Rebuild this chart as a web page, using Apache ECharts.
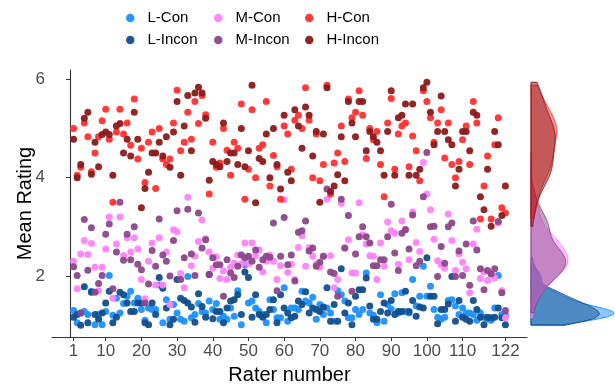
<!DOCTYPE html>
<html>
<head>
<meta charset="utf-8">
<script src="https://cdn.jsdelivr.net/npm/echarts@6/dist/echarts.min.js"></script>
<style>
  html, body { margin: 0; padding: 0; background: #fff; }
  #chart { width: 615px; height: 386px; }
</style>
</head>
<body>
<div id="chart"></div>
<script>
// mean rating per rater (1..122), one array per condition
const hCon = [
  5.0,4.05,4.21,5.11,4.83,4.12,4.5,4.83,5.16,5.39,
  4.78,3.5,4.93,5.39,4.89,5.11,4.66,5.6,4.38,4.6,
  3.9,4.72,4.93,3.78,5.0,4.38,4.27,4.38,5.11,5.78,
  4.55,4.72,5.33,4.78,5.55,5.1,5.67,5.28,3.67,4.72,
  4.21,4.3,5.0,4.56,4.05,4.72,4.6,5.5,3.56,4.17,
  5.38,4.0,4.6,4.67,5.55,3.83,4.45,4.22,3.56,5.05,
  4.89,4.17,5.17,5.27,5.0,5.83,5.17,4.0,4.89,3.94,
  4.27,5.88,3.67,4.3,4.5,5.05,4.33,5.6,5.22,5.33,
  5.77,5.27,4.39,5.0,4.77,4.94,4.27,3.61,5.11,5.61,
  4.17,4.89,5.05,5.11,4.22,4.85,4.55,3.94,5.77,5.55,
  5.22,4.72,5.11,5.38,4.4,5.11,4.27,4.0,4.33,4.77,
  5.05,4.27,5.55,5.11,3.16,3.83,4.44,3.16,4.67,5.22,
  3.39,3.28
]
const hIncon = [
  4.78,4.0,4.27,5.21,5.33,4.07,4.72,4.22,4.88,4.93,
  4.88,4.05,5.05,5.1,4.5,4.78,4.44,5.33,4.78,3.39,
  3.78,4.11,4.5,4.5,4.72,4.44,4.83,4.21,4.93,5.55,
  4.05,5.05,5.67,4.55,5.72,5.84,5.72,5.21,3.95,4.33,
  4.27,4.22,5.11,4.33,4.5,4.5,4.27,5.0,4.22,4.55,
  5.88,3.49,4.39,4.33,4.89,4.0,5.0,4.27,3.77,5.27,
  4.11,3.94,5.38,5.05,4.6,5.44,5.27,4.44,4.94,3.5,
  4.89,5.83,3.72,3.83,4.06,4.83,3.94,5.55,5.11,4.83,
  5.55,5.55,4.55,4.94,4.83,4.72,4.55,4.05,4.94,5.77,
  4.05,5.22,5.27,5.5,4.05,5.5,4.05,4.17,5.83,5.94,
  5.33,4.67,4.94,5.66,4.94,4.77,4.67,3.83,4.17,4.94,
  4.94,4.55,5.33,5.27,3.61,3.35,4.17,3.01,4.94,4.67,
  3.23,3.83
]
const mCon = [
  2.3,1.74,2.45,2.72,2.44,2.66,2.18,1.7,2.18,2.55,
  3.2,1.55,2.65,3.2,2.42,2.78,2.49,2.78,2.55,1.93,
  1.54,2.3,2.67,1.82,2.78,1.82,2.49,1.42,2.94,2.9,
  2.05,1.76,3.6,2.21,2.4,2.7,3.14,2.76,2.49,2.16,
  2.39,1.95,2.1,1.93,2.18,2.26,2.43,2.25,2.67,2.25,
  2.67,2.41,2.53,2.08,2.3,2.43,2.3,1.93,2.21,3.55,
  2.07,2.24,1.93,2.58,2.82,2.2,2.58,2.4,2.24,2.18,
  2.4,3.56,2.41,1.76,1.93,3.48,2.57,2.74,2.06,2.06,
  3.49,2.84,2.65,2.41,2.4,1.93,2.67,2.2,3.1,2.92,
  2.87,2.24,3.12,2.95,2.33,3.3,2.68,2.5,4.31,3.67,
  3.35,2.75,2.31,2.23,2.16,3.26,2.72,2.11,2.45,2.28,
  2.15,1.66,2.65,2.95,1.95,2.08,1.91,2.05,1.96,3.08,
  1.7,1.15
]
const mIncon = [
  2.19,2.01,1.25,3.15,2.12,2.98,1.67,1.85,2.01,2.85,
  3.06,1.74,2.49,3.5,2.32,2.85,2.33,3.0,2.24,2.13,
  1.45,1.84,2.52,2.2,3.16,2.43,2.3,2.0,2.72,3.33,
  1.93,2.37,3.36,2.45,2.01,3.28,2.57,2.74,2.03,2.37,
  2.23,2.23,1.59,2.33,2.06,1.97,2.2,2.43,2.37,2.4,
  2.3,2.53,2.18,2.33,2.4,2.38,3.08,1.7,2.4,3.19,
  2.23,2.43,1.9,2.89,2.92,3.12,2.51,2.57,2.2,2.28,
  2.4,3.77,2.08,2.05,1.59,3.56,2.57,3.23,1.69,2.45,
  2.8,3.0,2.8,2.67,2.21,2.21,2.33,2.33,2.8,3.46,
  2.47,2.11,2.87,2.94,2.55,3.24,2.21,2.3,3.61,4.51,
  3.0,3.01,1.99,2.6,2.26,3.0,3.08,1.99,2.51,2.01,
  2.65,1.81,3.12,2.53,2.15,1.72,2.11,2.04,2.15,3.11,
  1.66,1.3
]
const lCon = [
  1.3,1.05,1.25,1.28,1.22,1.69,1.01,1.22,1.01,1.28,
  2.01,1.2,1.55,1.25,1.44,1.59,1.69,1.45,1.55,1.32,
  1.1,1.35,1.32,1.32,1.82,1.05,1.52,1.12,1.42,1.25,
  1.12,1.08,1.99,1.15,1.22,1.44,1.28,1.25,1.49,1.32,
  1.44,1.12,1.18,1.12,1.35,1.18,1.7,1.01,2.23,1.45,
  1.49,1.35,1.28,1.22,1.05,1.52,1.32,1.15,1.15,1.76,
  1.08,1.35,1.35,1.32,1.69,1.49,1.45,1.57,1.12,1.42,
  1.22,1.35,1.25,1.08,1.7,1.62,1.49,1.15,1.15,1.32,
  1.22,1.32,2.06,1.25,1.2,1.05,1.62,1.08,1.42,1.33,
  1.64,1.25,1.66,1.28,1.25,1.93,1.39,1.59,2.2,1.59,
  1.79,1.32,1.16,1.12,1.16,1.5,1.52,1.39,1.22,1.35,
  1.25,1.25,1.22,1.1,1.25,1.16,1.12,1.1,1.35,2.01,
  1.22,1.2
]
const lIncon = [
  1.16,1.22,1.0,1.78,1.05,1.67,1.22,1.12,1.25,1.45,
  1.69,1.05,1.16,1.67,1.62,1.45,1.28,1.28,1.45,1.45,
  1.05,1.01,1.45,1.22,1.97,1.75,1.35,1.01,1.12,1.93,
  1.55,1.5,1.45,1.37,1.06,1.64,1.38,1.16,2.03,1.13,
  1.28,1.28,1.05,1.35,1.49,1.52,1.62,1.22,2.08,1.97,
  1.16,1.62,1.22,1.16,1.22,1.32,1.52,1.05,1.62,1.35,
  1.25,1.15,1.18,1.49,1.42,1.68,1.25,1.35,1.32,1.28,
  1.37,1.76,1.08,1.42,1.08,2.15,1.25,1.45,1.01,1.59,
  1.72,1.72,1.96,1.39,1.12,1.12,1.28,1.45,1.25,1.5,
  1.22,1.28,1.28,1.69,1.28,1.5,1.18,1.37,1.35,2.37,
  1.59,1.59,1.03,1.32,1.32,1.43,1.99,1.08,1.5,1.16,
  1.12,1.08,1.5,1.32,1.16,1.01,1.16,1.15,1.16,1.35,
  1.15,1.01
]

const groupNames = ['L-Con', 'L-Incon', 'M-Con', 'M-Incon', 'H-Con', 'H-Incon']
const groupColors = ['#1E90FF', '#104E8B', '#FF83FA', '#8B4789', '#FF3030', '#8B1A1A']
const groupValues = [lCon, lIncon, mCon, mIncon, hCon, hIncon]
const xTicks = [1, 10, 20, 30, 40, 50, 60, 70, 80, 90, 100, 110, 122]
const yTicks = [2, 4, 6]

const font = '"Liberation Sans", Arial, sans-serif'

// gaussian kde like R's density() with bw.nrd0, evaluated from min to max
const kde = (vals, adjust) => {
  const n = vals.length
  const sorted = [...vals].sort((a, b) => a - b)
  const mean = vals.reduce((a, b) => a + b, 0) / n
  const sd = Math.sqrt(vals.reduce((a, b) => a + (b - mean) ** 2, 0) / (n - 1))
  const q = (p) => {
    const h = (n - 1) * p
    const lo = Math.floor(h)
    return sorted[lo] + (h - lo) * ((sorted[lo + 1] ?? sorted[lo]) - sorted[lo])
  }
  const iqr = q(0.75) - q(0.25)
  const bw = adjust * 0.9 * Math.min(sd, iqr / 1.34) * Math.pow(n, -0.2)
  const lo = sorted[0]
  const hi = sorted[n - 1]
  const pts = []
  for (let i = 0; i < 256; i++) {
    const y = lo + (hi - lo) * i / 255
    let d = 0
    for (const v of vals) {
      const z = (y - v) / bw
      d += Math.exp(-0.5 * z * z)
    }
    pts.push([d / (n * bw * Math.sqrt(2 * Math.PI)), y])
  }
  return pts
}

const densities = groupValues.map(v => kde(v, 1.25))
let maxDens = 0
densities.forEach(pts => pts.forEach(p => { maxDens = Math.max(maxDens, p[0]) }))

const hexToRgba = (hex, a) => {
  const n = parseInt(hex.slice(1), 16)
  return `rgba(${(n >> 16) & 255},${(n >> 8) & 255},${n & 255},${a})`
}

const scatterSeries = groupNames.map((name, i) => ({
  name,
  type: 'scatter',
  xAxisIndex: 0,
  yAxisIndex: 0,
  symbol: 'circle',
  symbolSize: 7,
  itemStyle: { color: groupColors[i], opacity: 0.95 },
  data: groupValues[i].map((v, k) => [k + 1, v])
}))

const densitySeries = groupNames.map((name, i) => {
  const pts = densities[i]
  return {
    name: name + ' density',
    type: 'custom',
    xAxisIndex: 1,
    yAxisIndex: 1,
    silent: true,
    clip: false,
    data: pts,
    renderItem: (params, api) => {
      if (params.dataIndex !== 0) return null
      const poly = [api.coord([0, pts[0][1]])]
      pts.forEach(p => poly.push(api.coord(p)))
      poly.push(api.coord([0, pts[pts.length - 1][1]]))
      return {
        type: 'polygon',
        shape: { points: poly },
        style: {
          fill: hexToRgba(groupColors[i], 0.5),
          stroke: groupColors[i],
          lineWidth: 1
        }
      }
    }
  }
})

const legendCol = (left, names) => ({
  orient: 'vertical',
  left,
  top: 7,
  padding: 0,
  itemGap: 0,
  itemWidth: 8.5,
  itemHeight: 8.5,
  icon: 'circle',
  data: names,
  selectedMode: false,
  textStyle: { fontFamily: font, fontSize: 15, color: '#000', lineHeight: 22, padding: [0, 0, 0, 8] }
})

const axisTextColor = '#4D4D4D'

const option = {
  animation: false,
  backgroundColor: '#fff',
  legend: [
    legendCol(126, ['L-Con', 'L-Incon']),
    legendCol(214, ['M-Con', 'M-Incon']),
    legendCol(305, ['H-Con', 'H-Incon'])
  ],
  grid: [
    { left: 52, right: 88, top: 70, bottom: 49, outerBoundsMode: 'none' },
    { left: 531, width: 83, top: 70, bottom: 49, outerBoundsMode: 'none' }
  ],
  xAxis: [
    {
      type: 'value',
      gridIndex: 0,
      min: -5.05,
      max: 128.05,
      name: 'Rater number',
      nameLocation: 'middle',
      nameGap: 28,
      nameMoveOverlap: false,
      nameTextStyle: { fontFamily: font, fontSize: 20, color: '#000' },
      axisLine: { lineStyle: { color: '#333', width: 1.1 } },
      axisTick: { length: 4, customValues: xTicks, lineStyle: { color: '#333' } },
      axisLabel: { customValues: xTicks, color: axisTextColor, fontFamily: font, fontSize: 17, margin: 6 },
      splitLine: { show: false }
    },
    {
      type: 'value',
      gridIndex: 1,
      min: 0,
      max: maxDens,
      show: false
    }
  ],
  yAxis: [
    {
      type: 'value',
      gridIndex: 0,
      min: 0.76,
      max: 6.19,
      name: 'Mean Rating',
      nameLocation: 'middle',
      nameGap: 17,
      nameMoveOverlap: false,
      nameTextStyle: { fontFamily: font, fontSize: 20, color: '#000' },
      axisLine: { lineStyle: { color: '#333', width: 1.1 } },
      axisTick: { length: 4, customValues: yTicks, lineStyle: { color: '#333' } },
      axisLabel: { customValues: yTicks, color: axisTextColor, fontFamily: font, fontSize: 17, margin: 7 },
      splitLine: { show: false }
    },
    {
      type: 'value',
      gridIndex: 1,
      min: 0.76,
      max: 6.19,
      show: false
    }
  ],
  series: [...scatterSeries, ...densitySeries]
}

const chart = echarts.init(document.getElementById('chart'))
chart.setOption(option)
</script>
</body>
</html>
